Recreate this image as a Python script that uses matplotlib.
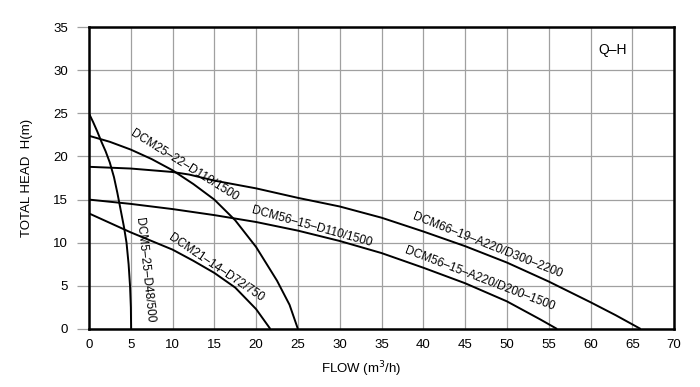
import matplotlib
matplotlib.use("Agg")
import matplotlib.pyplot as plt

plt.rcParams['font.family'] = ['Liberation Sans', 'DejaVu Sans']

# Curve data (flow m3/h, head m)
q_5_25 = [0, 0.5, 1.0, 1.5, 2.0, 2.5, 3.0, 3.4, 3.8, 4.2, 4.5, 4.75, 4.92, 5.02, 5.05]
h_5_25 = [25, 24.0, 22.9, 21.7, 20.6, 19.3, 17.6, 15.8, 13.8, 11.8, 10.0, 7.5, 5.0, 2.5, 0]

q_21_14 = [0, 2.5, 5, 7.5, 10, 12.5, 15, 17.5, 20, 21.7]
h_21_14 = [13.4, 12.3, 11.2, 10.2, 9.2, 7.9, 6.5, 4.8, 2.3, 0]

q_25_22 = [0, 2.5, 5, 7.5, 10, 12.5, 15, 17.5, 20, 22.5, 24, 25]
h_25_22 = [22.4, 21.7, 20.8, 19.7, 18.4, 16.8, 15.0, 12.6, 9.5, 5.6, 2.8, 0]

q_66_19 = [0, 5, 10, 12, 15, 20, 25, 30, 35, 40, 45, 50, 55, 60, 63, 66]
h_66_19 = [18.8, 18.6, 18.2, 17.9, 17.2, 16.3, 15.2, 14.2, 12.9, 11.3, 9.6, 7.7, 5.5, 3.1, 1.6, 0]

q_56_15 = [0, 5, 10, 15, 17.5, 20, 25, 30, 35, 40, 45, 50, 54, 56]
h_56_15 = [15, 14.5, 13.9, 13.2, 12.8, 12.4, 11.4, 10.2, 8.8, 7.1, 5.3, 3.2, 1.1, 0]

curves = [(q_5_25, h_5_25), (q_21_14, h_21_14), (q_25_22, h_25_22),
          (q_66_19, h_66_19), (q_56_15, h_56_15)]

labels = [
    ("DCM25-22-D110/1500", 11.4, 19.0, -32),
    ("DCM5-25-D48/500", 6.6, 6.8, -84),
    ("DCM21-14-D72/750", 15.2, 7.1, -34),
    ("DCM56-15-D110/1500", 26.7, 11.9, -15.5),
    ("DCM66-19-A220/D300-2200", 47.7, 9.7, -21.5),
    ("DCM56-15-A220/D200-1500", 46.7, 5.8, -21),
]

x_ticks = list(range(0, 75, 5))
y_ticks = list(range(0, 40, 5))

fig = plt.figure(figsize=(7.0, 3.87), dpi=100)
ax = fig.add_axes([0.127, 0.150, 0.836, 0.780])

for q, h in curves:
    ax.plot(q, h, color='black', lw=1.4, solid_capstyle='butt',
            solid_joinstyle='round', zorder=3)

for txt, x, y, rot in labels:
    ax.text(x, y, txt.replace('-', '\u2013'), rotation=rot, rotation_mode='anchor',
            ha='center', va='center', fontsize=8.6, color='black', zorder=4)

ax.text(62.6, 32.3, "Q\u2013H", ha='center', va='center', fontsize=10)

ax.set_xlim(0, 70)
ax.set_ylim(0, 35)
ax.set_xticks(x_ticks)
ax.set_yticks(y_ticks)
ax.grid(True, color='#a0a0a0', lw=0.9, zorder=0)
ax.tick_params(axis='x', length=0, pad=7.5, labelsize=9.5)
ax.tick_params(axis='y', length=8.6, width=0.9, color='#a0a0a0', pad=6.5, labelsize=9.5)
for s in ax.spines.values():
    s.set_linewidth(1.8)
    s.set_color('black')

ax.set_xlabel("FLOW (m$^3$/h)", fontsize=9.5)
ax.xaxis.set_label_coords(0.465, -0.10)
ax.set_ylabel("TOTAL HEAD  H(m)", fontsize=9.5)
ax.yaxis.set_label_coords(-0.095, 0.5)

fig.savefig("out.png", dpi=100)
